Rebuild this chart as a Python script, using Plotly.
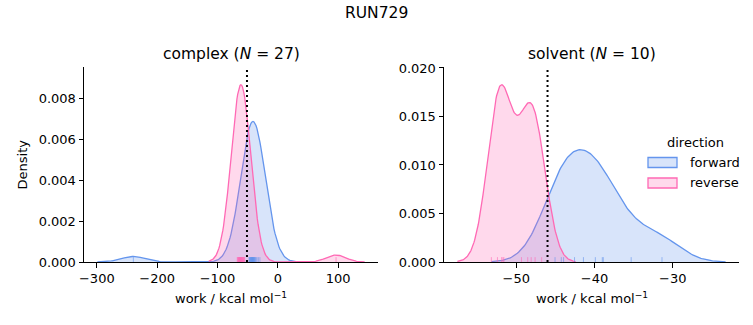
import numpy as np
import plotly.graph_objects as go

complex_forward = [-239.5, -47.9, -47.0, -46.3, -45.8, -45.2, -44.8, -44.3, -43.9, -43.5,
                   -43.1, -42.8, -42.4, -42.0, -41.7, -41.3, -40.9, -40.5, -40.0, -39.4,
                   -38.8, -38.1, -37.2, -36.0, -34.5, -32.3, -29.8]
complex_reverse = [96.4, -67.3, -66.5, -65.8, -65.2, -64.7, -64.2, -63.8, -63.4, -63.0,
                   -62.6, -62.2, -61.9, -61.5, -61.2, -60.8, -60.4, -60.0, -59.6, -59.2,
                   -58.7, -58.2, -57.6, -57.0, -56.4, -55.7, -55.0]
solvent_forward = [-45.04, -44.24, -43.95, -42.55, -41.41, -39.89, -39.0, -38.87, -35.31, -31.37]
solvent_reverse = [-53.18, -52.4, -51.87, -51.7, -51.58, -49.33, -48.53, -48.09, -47.59, -46.75]
complex_estimate = -51.2
solvent_estimate = -46.0
total_n = 74  # densities normalised over all samples

directions = ["forward", "reverse"]
line_colors = {"forward": "#6495ED", "reverse": "#FF69B4"}
fill_colors = {"forward": "rgba(100,149,237,0.25)", "reverse": "rgba(255,105,180,0.25)"}
rug_colors = {"forward": "rgba(100,149,237,0.6)", "reverse": "rgba(255,105,180,0.6)"}

xticks_complex = [-300, -200, -100, 0, 100]
yticks_complex = [0.000, 0.002, 0.004, 0.006, 0.008]
xticks_solvent = [-50, -40, -30]
yticks_solvent = [0.000, 0.005, 0.010, 0.015, 0.020]

FONT = "DejaVu Sans"
W, H = 753, 325


def kde(values, weight):
    x = np.asarray(values, float)
    n = len(x)
    bw = np.std(x, ddof=1) * n ** (-0.2)
    grid = np.linspace(x.min() - 3 * bw, x.max() + 3 * bw, 200)
    dens = np.exp(-0.5 * ((grid[:, None] - x[None, :]) / bw) ** 2).sum(1) / (n * bw * np.sqrt(2 * np.pi))
    return grid, dens * weight


fig = go.Figure()
shapes = []
annotations = []

panels = [
    ("x", "y", {"forward": complex_forward, "reverse": complex_reverse}, complex_estimate,
     xticks_complex, yticks_complex, (84, 378)),
    ("x2", "y2", {"forward": solvent_forward, "reverse": solvent_reverse}, solvent_estimate,
     xticks_solvent, yticks_solvent, (444, 739)),
]

ranges = []
for xa, ya, data, est, xt, yt, px in panels:
    xmin, xmax, ymax = np.inf, -np.inf, 0
    for d in directions:
        g, dens = kde(data[d], len(data[d]) / total_n)
        xmin, xmax, ymax = min(xmin, g.min()), max(xmax, g.max()), max(ymax, dens.max())
        fig.add_trace(go.Scatter(x=g, y=dens, xaxis=xa, yaxis=ya, mode="lines",
                                 line=dict(color=line_colors[d], width=1.3),
                                 fill="tozeroy", fillcolor=fill_colors[d],
                                 showlegend=False, hoverinfo="skip"))
        for v in data[d]:
            shapes.append(dict(type="line", xref=xa, yref=ya + " domain", x0=v, x1=v, y0=0, y1=0.025,
                               line=dict(color=rug_colors[d], width=1)))
    shapes.append(dict(type="line", xref=xa, yref=ya + " domain", x0=est, x1=est, y0=0, y1=1,
                       line=dict(color="black", width=2, dash="2px,3px")))
    span = xmax - xmin
    ranges.append(((xmin - 0.05 * span, xmax + 0.05 * span), (0, ymax * 1.10)))

y_dom = [1 - 262 / H, 1 - 67 / H]
axis_common = dict(showline=True, linecolor="black", linewidth=1, ticks="outside", ticklen=4.5,
                   tickwidth=1, tickcolor="black", showgrid=False, zeroline=False, automargin=False,
                   tickfont=dict(family=FONT, size=13, color="black"))


def note(text, x, y, size=13, xanchor="center", angle=0):
    return dict(text=text, x=x / W, y=1 - y / H, xref="paper", yref="paper", showarrow=False,
                xanchor=xanchor, yanchor="middle", textangle=angle,
                font=dict(family=FONT, size=size, color="black"))


for i, (xa, ya, data, est, xt, yt, px) in enumerate(panels):
    xr, yr = ranges[i]
    sfx = "" if i == 0 else "2"
    fig.update_layout(**{
        "xaxis" + sfx: dict(domain=[px[0] / W, px[1] / W], range=list(xr), tickvals=xt,
                            anchor="y" + sfx, **axis_common),
        "yaxis" + sfx: dict(domain=y_dom, range=list(yr), tickvals=yt, tickformat=".3f",
                            anchor="x" + sfx, **axis_common),
    })
    annotations.append(note("work / kcal mol<sup>−1</sup>", (px[0] + px[1]) / 2, 298))

annotations += [
    note("RUN729", 376, 13, 15.5),
    note("complex (<i>N</i> = 27)", 231, 54, 15.5),
    note("solvent (<i>N</i> = 10)", 591.5, 54, 15.5),
    note("Density", 22, 164.5, angle=-90),
    note("direction", 695, 142),
]
for j, d in enumerate(directions):
    yc = 162.5 + 20.5 * j
    shapes.append(dict(type="rect", xref="paper", yref="paper", x0=648 / W, x1=677 / W,
                       y0=1 - (yc + 5) / H, y1=1 - (yc - 5) / H,
                       fillcolor=fill_colors[d], line=dict(color=line_colors[d], width=1.3)))
    annotations.append(note(d, 688, yc, xanchor="left"))

fig.update_layout(width=W, height=H, margin=dict(l=0, r=0, t=0, b=0, autoexpand=False),
                  plot_bgcolor="white", paper_bgcolor="white", showlegend=False,
                  shapes=shapes, annotations=annotations,
                  font=dict(family=FONT, color="black"))

fig.write_html("out.html")
